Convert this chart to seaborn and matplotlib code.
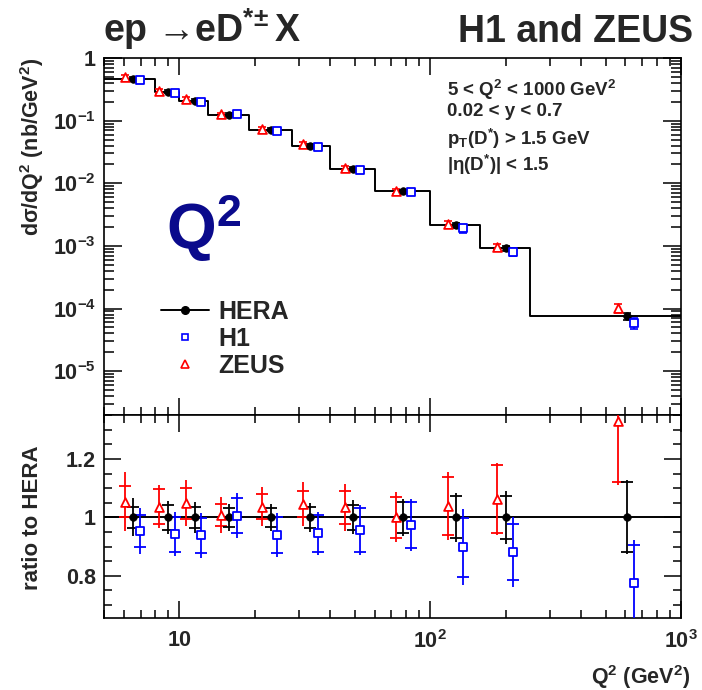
import matplotlib
matplotlib.use("Agg")
import matplotlib.pyplot as plt
from matplotlib.ticker import FixedLocator, FixedFormatter, LogLocator, MultipleLocator, NullFormatter
from matplotlib.lines import Line2D
import numpy as np
import seaborn as sns

# ---------------- data ----------------
q2_edges = [5, 8, 10, 13, 19, 28, 40, 60, 100, 158, 250, 1000]
hera_q2 = [6.5, 9.0, 11.5, 15.8, 23.1, 33.2, 49.3, 78.0, 127, 201, 610]
hera_xsec = [0.47, 0.29, 0.208, 0.125, 0.072, 0.040, 0.0171, 0.0074, 0.00213, 0.00091, 7.6e-5]
h1_q2 = [6.93, 9.64, 12.2, 17.0, 24.5, 35.8, 52.6, 84.0, 135, 214, 650]
h1_xsec = [0.448, 0.273, 0.195, 0.126, 0.0676, 0.0378, 0.0164, 0.0072, 0.00191, 0.000803, 5.9e-5]
zeus_q2 = [6.04, 8.32, 10.66, 14.7, 21.4, 31.2, 45.8, 73.2, 118, 185, 561]
zeus_xsec = [0.495, 0.301, 0.218, 0.126, 0.0747, 0.0418, 0.0177, 0.0074, 0.00221, 0.000966, 1.01e-4]

hera_ratio = [1.0, 1.0, 1.0, 1.0, 1.0, 1.0, 1.0, 1.0, 1.0, 1.0, 1.0]
h1_ratio = [0.953, 0.943, 0.939, 1.005, 0.939, 0.945, 0.957, 0.974, 0.897, 0.882, 0.776]
zeus_ratio = [1.054, 1.037, 1.048, 1.008, 1.037, 1.046, 1.034, 1.0, 1.039, 1.062, 1.331]

hera_tot = [0.065, 0.056, 0.053, 0.046, 0.046, 0.050, 0.058, 0.063, 0.085, 0.092, 0.127]
hera_stat = [0.037, 0.043, 0.037, 0.033, 0.033, 0.036, 0.044, 0.052, 0.072, 0.075, 0.120]
zeus_tot = [0.102, 0.075, 0.079, 0.063, 0.066, 0.076, 0.079, 0.086, 0.118, 0.123, 0.22]
zeus_stat = [0.053, 0.060, 0.052, 0.037, 0.042, 0.046, 0.056, 0.070, 0.100, 0.117, 0.21]
h1_tot = [0.080, 0.077, 0.077, 0.077, 0.075, 0.074, 0.085, 0.090, 0.130, 0.120, 0.146]
h1_stat = [0.056, 0.060, 0.060, 0.060, 0.061, 0.063, 0.075, 0.080, 0.100, 0.095, 0.129]

ytick_vals = [1e-5, 1e-4, 1e-3, 1e-2, 1e-1, 1]
ytick_labels = ["$10^{-5}$", "$10^{-4}$", "$10^{-3}$", "$10^{-2}$", "$10^{-1}$", "1"]
xtick_vals = [10, 100, 1000]
xtick_labels = ["10", "$10^{2}$", "$10^{3}$"]
rtick_vals = [0.8, 1.0, 1.2]
rtick_labels = ["0.8", "1", "1.2"]

# ---------------- style ----------------
sns.set_theme(style="ticks")
plt.rcParams["font.family"] = ["Liberation Sans", "DejaVu Sans"]
plt.rcParams["font.weight"] = "bold"
plt.rcParams["mathtext.fontset"] = "custom"
plt.rcParams["mathtext.rm"] = "Liberation Sans:bold"
plt.rcParams["mathtext.it"] = "Liberation Sans:bold"
plt.rcParams["mathtext.bf"] = "Liberation Sans:bold"
plt.rcParams["mathtext.sf"] = "Liberation Sans:bold"
plt.rcParams["mathtext.default"] = "regular"

W, H = 702, 690
fig = plt.figure(figsize=(W / 100, H / 100), dpi=100)

def fx(px):
    return px / W

def fy(py):
    return 1 - py / H

L, R = 104, 681
T1, B1, B2 = 58, 415, 618
ax = fig.add_axes([fx(L), fy(B1), fx(R) - fx(L), fy(T1) - fy(B1)])
axr = fig.add_axes([fx(L), fy(B2), fx(R) - fx(L), fy(B1) - fy(B2)])

RED, BLUE, BLACK = "#ff0000", "#0000ff", "#000000"
S_TRI, S_DOT, S_SQ = 40, 30, 28

# ---------------- top panel ----------------
step_y = hera_xsec + [hera_xsec[-1]]
sns.lineplot(x=q2_edges, y=step_y, drawstyle="steps-post", color=BLACK, lw=1.4,
             estimator=None, sort=False, ax=ax, zorder=2)

def top_err(xs, ys, tot, ratio, col):
    yerr = np.array(ys) * np.array(tot) / np.array(ratio)
    ax.errorbar(xs, ys, yerr=yerr, fmt="none", ecolor=col, elinewidth=1.2,
                capsize=3, capthick=1.2, zorder=3)

top_err(zeus_q2, zeus_xsec, zeus_tot, zeus_ratio, RED)
top_err(hera_q2, hera_xsec, hera_tot, hera_ratio, BLACK)
top_err(h1_q2, h1_xsec, h1_tot, h1_ratio, BLUE)

sns.scatterplot(x=zeus_q2, y=zeus_xsec, marker="^", s=S_TRI, facecolor="white",
                edgecolor=RED, linewidth=1.3, ax=ax, zorder=4)
sns.scatterplot(x=hera_q2, y=hera_xsec, marker="o", s=S_DOT, color=BLACK,
                edgecolor=BLACK, linewidth=0.5, ax=ax, zorder=5)
sns.scatterplot(x=h1_q2, y=h1_xsec, marker="s", s=S_SQ, facecolor="white",
                edgecolor=BLUE, linewidth=1.3, ax=ax, zorder=6)

ax.set_xscale("log")
ax.set_yscale("log")
ax.set_xlim(5, 1000)
ax.set_ylim(2.0e-6, 1.0)

# ---------------- ratio panel ----------------
axr.axhline(1.0, color=BLACK, lw=1.4, zorder=2)

def ratio_err(xs, ys, tot, stat, col):
    axr.errorbar(xs, ys, yerr=tot, fmt="none", ecolor=col, elinewidth=1.3,
                 capsize=0, zorder=3)
    axr.errorbar(xs, ys, yerr=stat, fmt="none", ecolor=col, elinewidth=0,
                 capsize=4.5, capthick=1.3, zorder=3)

ratio_err(zeus_q2, zeus_ratio, zeus_tot, zeus_stat, RED)
ratio_err(hera_q2, hera_ratio, hera_tot, hera_stat, BLACK)
ratio_err(h1_q2, h1_ratio, h1_tot, h1_stat, BLUE)

sns.scatterplot(x=zeus_q2, y=zeus_ratio, marker="^", s=S_TRI, facecolor="white",
                edgecolor=RED, linewidth=1.3, ax=axr, zorder=4)
sns.scatterplot(x=hera_q2, y=hera_ratio, marker="o", s=S_DOT, color=BLACK,
                edgecolor=BLACK, linewidth=0.5, ax=axr, zorder=5)
sns.scatterplot(x=h1_q2, y=h1_ratio, marker="s", s=S_SQ, facecolor="white",
                edgecolor=BLUE, linewidth=1.3, ax=axr, zorder=6)

axr.set_xscale("log")
axr.set_xlim(5, 1000)
axr.set_ylim(0.655, 1.351)

# ---------------- ticks / frames ----------------
for a in (ax, axr):
    a.set_xlabel("")
    a.set_ylabel("")
    for sp in a.spines.values():
        sp.set_linewidth(1.2)
        sp.set_color(BLACK)
        sp.set_visible(True)
    a.tick_params(which="both", direction="in", top=True, right=True,
                  color=BLACK, width=1.1, labelsize=15.5, pad=6)
    a.tick_params(which="major", length=12)
    a.tick_params(which="minor", length=6)
    a.xaxis.set_major_locator(FixedLocator(xtick_vals))
    a.xaxis.set_minor_locator(LogLocator(base=10, subs=np.arange(2, 10)))
    a.xaxis.set_minor_formatter(NullFormatter())

ax.xaxis.set_major_formatter(NullFormatter())
ax.yaxis.set_major_locator(FixedLocator(ytick_vals))
ax.yaxis.set_major_formatter(FixedFormatter(ytick_labels))
ax.yaxis.set_minor_locator(LogLocator(base=10, subs=np.arange(2, 10), numticks=20))
ax.yaxis.set_minor_formatter(NullFormatter())
ax.tick_params(axis="y", which="major", length=13)
ax.tick_params(axis="y", which="minor", length=7)

axr.xaxis.set_major_formatter(FixedFormatter(xtick_labels))
axr.yaxis.set_major_locator(FixedLocator(rtick_vals))
axr.yaxis.set_major_formatter(FixedFormatter(rtick_labels))
axr.yaxis.set_minor_locator(MultipleLocator(0.05))
axr.yaxis.set_minor_formatter(NullFormatter())
axr.tick_params(axis="x", which="major", pad=9)

for lab in ax.get_yticklabels() + axr.get_yticklabels() + axr.get_xticklabels():
    lab.set_fontweight("bold")

# ---------------- texts ----------------
fig.text(fx(32), fy(58), "dσ/dQ$^{2}$ (nb/GeV$^{2}$)", rotation=90, ha="center", va="top",
         fontsize=15.5, fontweight="bold")
fig.text(fx(33), fy(518), "ratio to HERA", rotation=90, ha="center", va="center",
         fontsize=16, fontweight="bold")
fig.text(fx(690), fy(684), "Q$^{2}$ (GeV$^{2}$)", ha="right", va="baseline",
         fontsize=15.5, fontweight="bold")

fig.text(fx(103), fy(42), "ep →eD$^{*\\!\\pm}$X", ha="left", va="baseline",
         fontsize=27, fontweight="bold")
fig.text(fx(693), fy(42), "H1 and ZEUS", ha="right", va="baseline",
         fontsize=27, fontweight="bold")

fig.text(fx(166), fy(250), "Q$^{2}$", ha="left", va="baseline", fontsize=46,
         fontweight="bold", color="#0a0a8c")

cuts = ["5 < Q$^{2}$ < 1000 GeV$^{2}$", "0.02 < y < 0.7",
        "p$_{T}$(D$^{*}$) > 1.5 GeV", "|η(D$^{*}$)| < 1.5"]
cut_y = [96, 116, 145, 171]
for txt, yy in zip(cuts, cut_y):
    fig.text(fx(447), fy(yy), txt, ha="left", va="baseline", fontsize=13.5, fontweight="bold")

# ---------------- legend ----------------
handles = [
    Line2D([0], [0], color=BLACK, lw=1.4, marker="o", markersize=5.5),
    Line2D([0], [0], color=BLUE, lw=0, marker="s", markersize=5, markerfacecolor="white",
           markeredgewidth=1.2),
    Line2D([0], [0], color=RED, lw=0, marker="^", markersize=5.5, markerfacecolor="white",
           markeredgewidth=1.2),
]
leg = fig.legend(handles, ["HERA", "H1", "ZEUS"], loc="upper left",
                 bbox_to_anchor=(fx(161), fy(300)), bbox_transform=fig.transFigure,
                 frameon=False, fontsize=18, handlelength=1.9, handletextpad=0.4,
                 labelspacing=0.12, borderpad=0, borderaxespad=0)
for t in leg.get_texts():
    t.set_fontweight("bold")

fig.savefig("out.png", dpi=100)
